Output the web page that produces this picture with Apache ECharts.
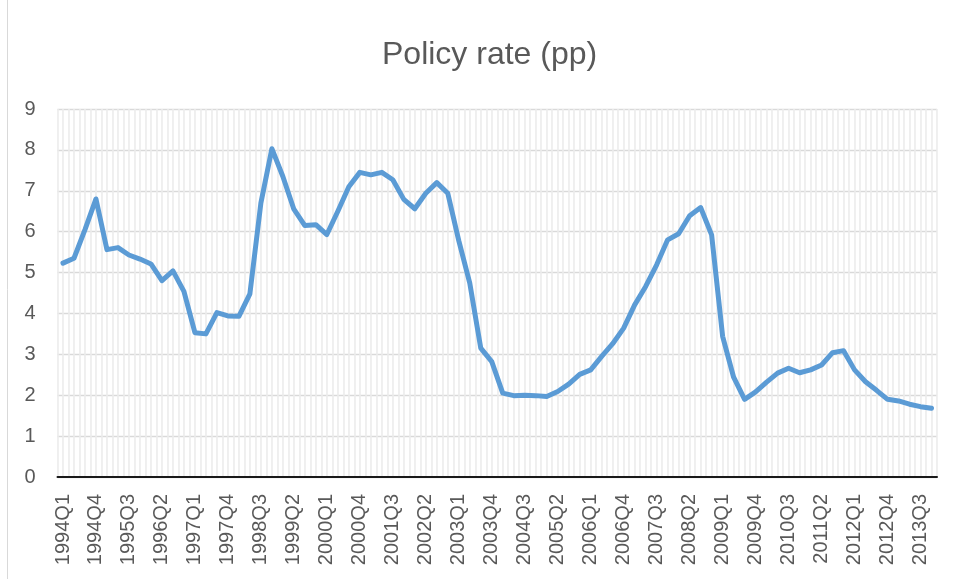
<!DOCTYPE html>
<html>
<head>
<meta charset="utf-8">
<title>Policy rate (pp)</title>
<script src="https://cdn.jsdelivr.net/npm/echarts@6/dist/echarts.min.js"></script>
<style>
  html, body { margin: 0; padding: 0; background: #fff; }
  #chart { width: 955px; height: 579px; }
</style>
</head>
<body>
<div id="chart"></div>
<script>
// quarterly categories, 1994Q1 .. 2013Q4
const quarters = [
  '1994Q1', '1994Q2', '1994Q3', '1994Q4', '1995Q1', '1995Q2', '1995Q3', '1995Q4',
  '1996Q1', '1996Q2', '1996Q3', '1996Q4', '1997Q1', '1997Q2', '1997Q3', '1997Q4',
  '1998Q1', '1998Q2', '1998Q3', '1998Q4', '1999Q1', '1999Q2', '1999Q3', '1999Q4',
  '2000Q1', '2000Q2', '2000Q3', '2000Q4', '2001Q1', '2001Q2', '2001Q3', '2001Q4',
  '2002Q1', '2002Q2', '2002Q3', '2002Q4', '2003Q1', '2003Q2', '2003Q3', '2003Q4',
  '2004Q1', '2004Q2', '2004Q3', '2004Q4', '2005Q1', '2005Q2', '2005Q3', '2005Q4',
  '2006Q1', '2006Q2', '2006Q3', '2006Q4', '2007Q1', '2007Q2', '2007Q3', '2007Q4',
  '2008Q1', '2008Q2', '2008Q3', '2008Q4', '2009Q1', '2009Q2', '2009Q3', '2009Q4',
  '2010Q1', '2010Q2', '2010Q3', '2010Q4', '2011Q1', '2011Q2', '2011Q3', '2011Q4',
  '2012Q1', '2012Q2', '2012Q3', '2012Q4', '2013Q1', '2013Q2', '2013Q3', '2013Q4'
]

// policy rate, pp
const policyRate = [
  5.23, 5.35, 6.05, 6.80, 5.56, 5.61, 5.43, 5.33,
  5.21, 4.80, 5.04, 4.54, 3.53, 3.50, 4.02, 3.94,
  3.93, 4.48, 6.70, 8.03, 7.35, 6.55, 6.15, 6.17,
  5.93, 6.50, 7.10, 7.45, 7.39, 7.45, 7.27, 6.79,
  6.56, 6.94, 7.20, 6.94, 5.78, 4.74, 3.15, 2.82,
  2.05, 1.99, 2.00, 1.99, 1.97, 2.09, 2.27, 2.51,
  2.62, 2.95, 3.26, 3.64, 4.21, 4.66, 5.19, 5.80,
  5.95, 6.39, 6.59, 5.92, 3.44, 2.44, 1.90, 2.08,
  2.32, 2.54, 2.66, 2.55, 2.62, 2.74, 3.04, 3.09,
  2.62, 2.33, 2.12, 1.90, 1.86, 1.78, 1.72, 1.68
]

const yTicks = [0, 1, 2, 3, 4, 5, 6, 7, 8, 9]

// half-quarter slots, only used to draw the fine vertical gridlines
const halfSlots = []
quarters.forEach(q => { halfSlots.push(q + 'a', q + 'b') })

const textColor = '#595959'
const font = 'Liberation Sans'

const chart = echarts.init(document.getElementById('chart'), null, { renderer: 'canvas' })
chart.setOption({
  animation: false,
  backgroundColor: '#fff',
  title: {
    text: 'Policy rate (pp)',
    left: 377,
    top: 34,
    textStyle: {
      color: textColor,
      fontFamily: font,
      fontWeight: 'normal',
      fontSize: 32
    }
  },
  graphic: [{
    type: 'rect',
    shape: { x: 7.5, y: -10, width: 1000, height: 1000 },
    style: { fill: 'none', stroke: '#d9d9d9', lineWidth: 1 },
    silent: true,
    z: 0
  }],
  grid: {
    left: 57.5,
    right: 18,
    top: 109,
    bottom: 102
  },
  xAxis: [{
    type: 'category',
    data: quarters,
    boundaryGap: true,
    axisLine: { show: true, lineStyle: { color: '#1a1a1a', width: 2 } },
    axisTick: { show: false },
    splitLine: { show: false },
    axisLabel: {
      interval: 2,
      rotate: 90,
      margin: 17,
      color: textColor,
      fontFamily: font,
      fontSize: 20
    }
  }, {
    type: 'category',
    data: halfSlots,
    position: 'bottom',
    boundaryGap: true,
    axisLine: { show: false },
    axisTick: { show: false },
    axisLabel: { show: false },
    splitLine: {
      show: true,
      interval: 0,
      lineStyle: { color: '#ececec', width: 1.6 }
    }
  }],
  yAxis: {
    type: 'value',
    min: yTicks[0],
    max: yTicks[yTicks.length - 1],
    interval: 1,
    axisLine: { show: false },
    axisTick: { show: false },
    axisLabel: {
      margin: 22,
      color: textColor,
      fontFamily: font,
      fontSize: 20
    },
    splitLine: {
      show: true,
      lineStyle: { color: '#d9d9d9', width: 1.3 }
    }
  },
  series: [{
    name: 'Policy rate',
    type: 'line',
    xAxisIndex: 0,
    data: policyRate,
    showSymbol: false,
    symbol: 'none',
    lineStyle: {
      color: '#5b9bd5',
      width: 5,
      join: 'round',
      cap: 'round'
    },
    z: 5
  }]
})
</script>
</body>
</html>
